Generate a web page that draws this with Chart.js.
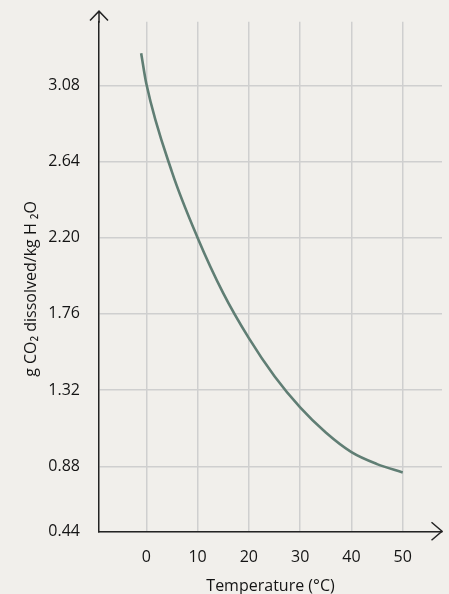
<!DOCTYPE html>
<html><head><meta charset="utf-8">
<script src="https://cdn.jsdelivr.net/npm/chart.js@4/dist/chart.umd.min.js"></script>
<style>html,body{margin:0;padding:0;background:#f1efeb;} canvas{display:block}</style>
</head><body>
<canvas id="c" width="449" height="594"></canvas>
<script>
// Data
const temperatures = [-1, 0, 5, 10, 15, 20, 25, 30, 35, 40, 45, 50];
const co2Dissolved = [3.265, 3.09, 2.58, 2.20, 1.88, 1.62, 1.40, 1.22, 1.075, 0.962, 0.893, 0.845];
const xTickValues = [0, 10, 20, 30, 40, 50];
const yTickValues = [0.505, 0.88, 1.32, 1.76, 2.20, 2.64, 3.08];
const yTickLabels = ['0.44', '0.88', '1.32', '1.76', '2.20', '2.64', '3.08'];
const xRange = [-9.22, 57.66];
const yRange = [0.505, 3.447];

const FONT = "'Open Sans', 'Noto Sans', sans-serif";
const TEXT = '#141414';
const AXIS = '#232323';
const GRID = '#cfcfcf';
const BG = '#f1efeb';

const decor = {
  id: 'decor',
  beforeDraw(chart) {
    const ctx = chart.ctx;
    ctx.save();
    ctx.fillStyle = BG;
    ctx.fillRect(0, 0, chart.width, chart.height);
    ctx.restore();
  },
  afterDraw(chart) {
    const {ctx, chartArea: {left, right, top, bottom}} = chart;
    const tipY = top - 10.5;
    ctx.save();
    ctx.strokeStyle = AXIS;
    ctx.lineWidth = 1.5;
    ctx.beginPath();
    ctx.moveTo(left, top + 1); ctx.lineTo(left, tipY);
    ctx.moveTo(left - 9, tipY + 9.3); ctx.lineTo(left, tipY); ctx.lineTo(left + 9, tipY + 9.3);
    ctx.moveTo(right - 10.5, bottom - 9); ctx.lineTo(right, bottom); ctx.lineTo(right - 10.5, bottom + 9);
    ctx.stroke();
    ctx.restore();
  }
};

const data = {
  datasets: [{
    data: temperatures.map((t, i) => ({x: t, y: co2Dissolved[i]})),
    borderColor: '#607e74',
    borderWidth: 2.6,
    pointRadius: 0,
    cubicInterpolationMode: 'monotone',
    fill: false,
    clip: false
  }]
};

new Chart(document.getElementById('c'), {
  type: 'line',
  data,
  plugins: [decor],
  options: {
    responsive: false,
    animation: false,
    layout: {padding: {top: 21.7, right: 7, left: 0, bottom: 0}},
    plugins: {legend: {display: false}, tooltip: {enabled: false}},
    scales: {
      x: {
        type: 'linear',
        min: xRange[0], max: xRange[1],
        afterBuildTicks: s => { s.ticks = xTickValues.map(v => ({value: v})); },
        afterFit: s => { s.height = 62.7; s.paddingLeft = 0; s.paddingRight = 0; },
        grid: {color: GRID, lineWidth: 1.5, drawTicks: false},
        border: {display: true, color: AXIS, width: 1.5},
        ticks: {font: {family: FONT, size: 16}, color: TEXT, padding: 17, maxRotation: 0,
                callback: v => String(v)},
        title: {display: true, text: 'Temperature (°C)', color: TEXT,
                font: {family: FONT, size: 16, lineHeight: 1.0}, padding: {top: 0, bottom: 0}}
      },
      y: {
        type: 'linear',
        min: yRange[0], max: yRange[1],
        afterBuildTicks: s => { s.ticks = yTickValues.map(v => ({value: v})); },
        afterFit: s => { s.width = 99; s.paddingTop = 0; s.paddingBottom = 0; },
        grid: {color: GRID, lineWidth: 1.5, drawTicks: false},
        border: {display: true, color: AXIS, width: 1.5},
        ticks: {font: {family: FONT, size: 16}, color: TEXT, padding: 19,
                callback: (v, i) => yTickLabels[i]},
        title: {display: true, text: 'g CO₂ dissolved/kg H ₂O      ', color: TEXT,
                font: {family: FONT, size: 16, lineHeight: 1.0}, padding: {top: 23, bottom: 0}}
      }
    }
  }
});
</script>
</body></html>
